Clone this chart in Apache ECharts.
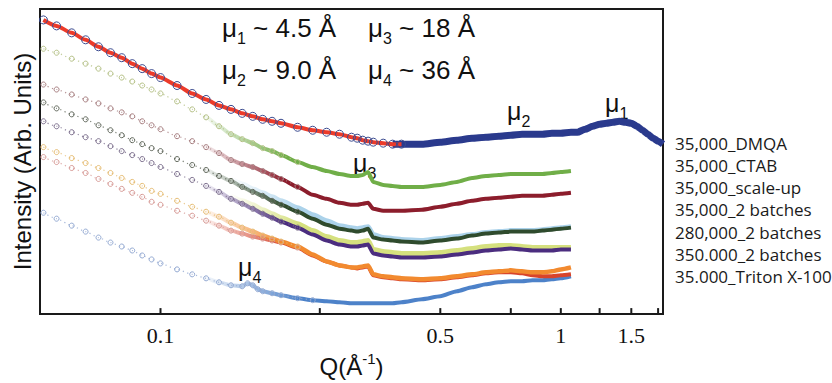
<!DOCTYPE html>
<html>
<head>
<meta charset="utf-8">
<title>SAXS curves</title>
<script src="https://cdn.jsdelivr.net/npm/echarts@6.0.0/dist/echarts.min.js"></script>
<style>
  html, body { margin: 0; padding: 0; background: #fff; }
  #chart { width: 832px; height: 383px; }
</style>
</head>
<body>
<div id="chart"></div>
<script>
// Q values (Å^-1) shared by the lower curves
const qGrid = [0.051, 0.055, 0.06, 0.065, 0.07, 0.075, 0.08, 0.085, 0.09, 0.095,
  0.1, 0.11, 0.12, 0.13, 0.14, 0.15, 0.16, 0.17, 0.18, 0.19, 0.2,
  0.22, 0.24, 0.26, 0.28, 0.3, 0.31, 0.32, 0.33, 0.34, 0.36, 0.38, 0.4,
  0.45, 0.5, 0.55, 0.6, 0.65, 0.7, 0.75, 0.8, 0.85, 0.9, 0.95, 1.0, 1.06];
// the DMQA curve runs on to the end of the axis
const qDmqaTail = [1.1, 1.15, 1.2, 1.25, 1.3, 1.35, 1.4, 1.45, 1.5, 1.55, 1.6, 1.65, 1.7, 1.75, 1.8];
// Triton curve, sampled a little finer around mu4
const qTriton = [0.051, 0.055, 0.06, 0.065, 0.07, 0.075, 0.08, 0.085, 0.09, 0.095,
  0.1, 0.11, 0.12, 0.13, 0.14, 0.15, 0.16, 0.165, 0.17, 0.175, 0.18, 0.19, 0.2,
  0.22, 0.24, 0.26, 0.28, 0.3, 0.32, 0.34, 0.36, 0.38, 0.4,
  0.45, 0.5, 0.55, 0.6, 0.65, 0.7, 0.75, 0.8, 0.85, 0.9, 0.95, 1.0, 1.06];

// intensities, arbitrary units (offset curves)
const yDmqa = [296, 290, 283, 276, 269, 263, 258, 252, 247, 242,
  238, 230, 222, 216, 210, 206, 202, 199, 196, 194, 192,
  188, 185, 183, 181, 178, 177, 175, 174, 173, 172, 171, 171,
  171, 173, 175, 177, 178, 179, 180, 181, 181, 181, 182, 182, 183,
  183, 186, 189, 191, 192, 193, 194, 193, 192, 189, 185, 181, 177, 174, 171];
const yCtab = [267, 263, 257, 252, 247, 242, 238, 234, 230, 226,
  222, 214, 206, 198, 189, 181, 176, 172, 167, 164, 160,
  153, 148, 144, 141, 139, 139, 140, 143, 133, 130, 129, 128,
  128, 130, 133, 137, 139, 140, 141, 141, 141, 141, 142, 143, 144];
const yScaleUp = [231, 226, 221, 216, 212, 207, 203, 199, 194, 190,
  186, 179, 174, 168, 162, 155, 151, 148, 144, 140, 136,
  128, 120, 116, 112, 110, 110, 111, 112, 106, 104, 104, 104,
  105, 108, 111, 114, 116, 117, 118, 119, 119, 119, 120, 121, 122];
const yTwoBatch35k = [213, 207, 201, 196, 190, 185, 180, 175, 171, 167,
  164, 156, 150, 145, 139, 134, 128, 123, 119, 114, 110,
  103, 96, 90, 86, 84, 83, 84, 86, 77, 75, 74, 73,
  72, 74, 76, 79, 81, 82, 83, 83, 83, 84, 85, 86, 87];
const yTwoBatch280k = [194, 189, 183, 178, 174, 169, 164, 160, 156, 152,
  148, 141, 135, 129, 123, 116, 111, 106, 101, 97, 93,
  87, 80, 74, 70, 68, 68, 69, 70, 61, 59, 58, 57,
  57, 58, 60, 62, 64, 65, 66, 65, 64, 64, 64, 65, 65];
const yTwoBatch350k = [168, 163, 157, 152, 147, 142, 137, 133, 129, 124,
  121, 114, 108, 103, 98, 92, 87, 83, 79, 76, 73,
  68, 60, 53, 49, 47, 47, 48, 49, 40, 38, 37, 36,
  35, 36, 38, 40, 42, 43, 44, 43, 42, 42, 43, 45, 47];
const yTwoBatch350kB = [158, 153, 147, 142, 136, 131, 126, 122, 118, 113,
  110, 104, 99, 94, 89, 84, 81, 78, 76, 74, 72,
  67, 59, 53, 49, 47, 46, 47, 48, 39, 37, 36, 35,
  34, 35, 37, 39, 41, 42, 42, 41, 39, 38, 38, 39, 40];
const yTriton = [102, 96, 89, 83, 77, 72, 68, 64, 59, 55,
  51, 45, 40, 36, 32, 29, 28, 31, 29, 25, 23, 21, 19,
  16, 14, 13, 12, 11, 11, 11, 11, 11, 12,
  15, 18, 23, 27, 30, 32, 33, 33, 34, 34, 35, 36, 38];
// repeat runs that only show from Q = 0.15 on
const qRepeat = qGrid.slice(15);
const yTwoBatch35kB = [136, 131, 126, 122, 118, 114, 107, 100, 94, 89,
  87, 86, 87, 88, 80, 77, 76, 75, 74, 76, 78, 80, 82, 83, 84, 84, 84, 85, 86, 87, 88];
const yTwoBatch280kB = [119, 114, 110, 105, 101, 97, 91, 84, 78, 74,
  72, 72, 73, 74, 65, 63, 62, 61, 61, 62, 64, 66, 68, 69, 69, 68, 67, 67, 67, 67, 67];

const sampleNames = ['35,000_DMQA', '35,000_CTAB', '35,000_scale-up', '35,000_2 batches',
  '280,000_2 batches', '350.000_2 batches', '35.000_Triton X-100'];
const tickQ = [0.1, 0.25, 0.5, 0.75, 1, 1.25, 1.5, 1.75];
const labelQ = [0.1, 0.5, 1, 1.5];

const qDmqa = qGrid.concat(qDmqaTail);

function pairs(q, y, lo, hi) {
  return q.map((v, i) => [v, y[i]]).filter(p => p[0] >= lo && p[0] <= hi);
}
function rgba(hex, a) {
  const n = parseInt(hex.slice(1), 16);
  return 'rgba(' + (n >> 16) + ',' + ((n >> 8) & 255) + ',' + (n & 255) + ',' + a + ')';
}

// open circles where the points are sparse, with a faint dotted trace between them
function dots(name, q, y, color, hi, size) {
  return {
    name: name, type: 'line', smooth: 0.2, smoothMonotone: 'x',
    symbol: 'circle', symbolSize: size || 5, showAllSymbol: true,
    data: pairs(q, y, 0, hi),
    itemStyle: { color: 'rgba(255,255,255,0)', borderColor: color, borderWidth: 1 },
    lineStyle: { color: rgba(color, 0.8), width: 1.2, type: [1.2, 3.4] },
    silent: true
  };
}
// dense region drawn as a thick band that fades in
function band(name, q, y, color, lo, width, fadeFrom, fadeTo) {
  const c = fadeFrom ? {
    type: 'linear', x: fadeFrom, y: 0, x2: fadeTo, y2: 0, global: true,
    colorStops: [{ offset: 0, color: rgba(color, 0) }, { offset: 1, color: color }]
  } : color;
  return {
    name: name, type: 'line', smooth: 0.2, smoothMonotone: 'x', showSymbol: false,
    data: pairs(q, y, lo, 99),
    lineStyle: { color: c, width: width || 4 },
    itemStyle: { color: color },
    silent: true
  };
}

const chart = echarts.init(document.getElementById('chart'), null, { renderer: 'svg' });

const series = [
  band(sampleNames[6], qTriton, yTriton, '#4d82c9', 0.12, 4, 200, 300),
  dots(sampleNames[6], qTriton, yTriton, '#93a9d2', 0.24),
  band('350k_b', qGrid, yTwoBatch350kB, '#d8442b', 0.12, 4, 200, 285),
  dots('350k_b', qGrid, yTwoBatch350kB, '#d79a96', 0.22),
  band(sampleNames[5], qGrid, yTwoBatch350k, '#f28a2f', 0.12, 4.5, 200, 285),
  dots(sampleNames[5], qGrid, yTwoBatch350k, '#e6bd74', 0.22),
  band('280k_b', qRepeat, yTwoBatch280kB, '#d5e07e', 0.15, 5, 230, 300),
  band(sampleNames[4], qGrid, yTwoBatch280k, '#4b2d7f', 0.12, 4, 200, 285),
  dots(sampleNames[4], qGrid, yTwoBatch280k, '#7b6e8c', 0.22),
  band('35k_b', qRepeat, yTwoBatch35kB, '#abd2ea', 0.15, 5, 230, 300),
  band(sampleNames[3], qGrid, yTwoBatch35k, '#2f4b2d', 0.12, 4, 200, 285),
  dots(sampleNames[3], qGrid, yTwoBatch35k, '#5f665a', 0.22),
  band(sampleNames[2], qGrid, yScaleUp, '#8c1d2c', 0.12, 4, 200, 285),
  dots(sampleNames[2], qGrid, yScaleUp, '#a57c7e', 0.22),
  band(sampleNames[1], qGrid, yCtab, '#70ae48', 0.12, 4, 200, 285),
  dots(sampleNames[1], qGrid, yCtab, '#b4c085', 0.22),
  dots(sampleNames[0], qDmqa, yDmqa, '#3a4a8f', 0.4, 8),
  band(sampleNames[0], qDmqa, yDmqa, '#2a3a8d', 0.38, 7),
  {
    name: 'fit', type: 'line', smooth: 0.2, smoothMonotone: 'x', showSymbol: false,
    data: pairs(qDmqa, yDmqa, 0, 0.4),
    lineStyle: { color: '#ec3b2a', width: 4 }, silent: true
  }
];

function muLabel(x, y, sub, rest, size) {
  return {
    type: 'text', x: x, y: y, silent: true,
    style: {
      text: '{m|μ}{s|' + sub + '}' + (rest ? '{m|' + rest + '}' : ''),
      verticalAlign: 'middle',
      rich: {
        m: { fontFamily: 'Liberation Sans', fontSize: size || 25, lineHeight: 36, fill: '#111' },
        s: { fontFamily: 'Liberation Sans', fontSize: 16, lineHeight: 16, verticalAlign: 'bottom', fill: '#111' }
      }
    }
  };
}

try {
  chart.setOption({
    animation: false,
    backgroundColor: '#fff',
    grid: { left: 40, right: 169, top: 9, bottom: 67, show: true, borderColor: '#1a1a1a', borderWidth: 2 },
    legend: {
      data: sampleNames, orient: 'vertical', left: 669, top: 132, padding: 0,
      icon: 'rect', itemWidth: 0, itemHeight: 0, itemGap: 0.3, selectedMode: false,
      textStyle: { fontFamily: 'Open Sans', fontSize: 17, color: '#1a1a1a', lineHeight: 22 }
    },
    xAxis: {
      type: 'log', logBase: 10, min: 0.05, max: 1.8,
      name: '{t|Q(Å}{u|-1}{t|)}', nameLocation: 'middle', nameGap: 31,
      nameTextStyle: {
        rich: {
          t: { fontFamily: 'Liberation Sans', fontSize: 24, lineHeight: 30, color: '#111' },
          u: { fontFamily: 'Liberation Sans', fontSize: 15, lineHeight: 15, verticalAlign: 'top', color: '#111' }
        }
      },
      axisLine: { show: true, lineStyle: { color: '#1a1a1a', width: 2 } },
      axisTick: { show: false },
      minorTick: { show: false },
      splitLine: { show: false },
      axisLabel: {
        customValues: labelQ, margin: 10,
        fontFamily: 'Liberation Serif', fontSize: 22, color: '#111',
        formatter: v => String(+(+v).toPrecision(3))
      }
    },
    yAxis: {
      type: 'value', min: 0, max: 307,
      name: 'Intensity (Arb. Units)', nameLocation: 'middle', nameGap: 6,
      nameTextStyle: { fontFamily: 'Liberation Sans', fontSize: 24, color: '#111' },
      axisLine: { show: false }, axisTick: { show: false },
      axisLabel: { show: false }, splitLine: { show: false }
    },
    graphic: [
      muLabel(222, 28, '1', ' ~ 4.5 Å', 26),
      muLabel(368, 28, '3', ' ~ 18 Å', 26),
      muLabel(222, 70, '2', ' ~ 9.0 Å', 26),
      muLabel(368, 70, '4', ' ~ 36 Å', 26),
      muLabel(507, 111, '2'),
      muLabel(605, 103, '1'),
      muLabel(353, 163, '3'),
      muLabel(238, 267, '4')
    ],
    series: series
  });
} catch (e) { /* keep going so the ticks still get drawn */ }

// inward ticks on the Q axis, placed through the axis scale
try {
  const zr = chart.getZr();
  tickQ.forEach(q => {
    const p = chart.convertToPixel({ xAxisIndex: 0, yAxisIndex: 0 }, [q, 0]);
    if (!p || !isFinite(p[0]) || !isFinite(p[1])) return;
    const tick = new echarts.graphic.Line({
      shape: { x1: p[0], y1: p[1], x2: p[0], y2: p[1] - 6 },
      style: { stroke: '#1a1a1a', lineWidth: 2 },
      silent: true, z: 100
    });
    zr.add(tick);
  });
} catch (e) { }
</script>
</body>
</html>
